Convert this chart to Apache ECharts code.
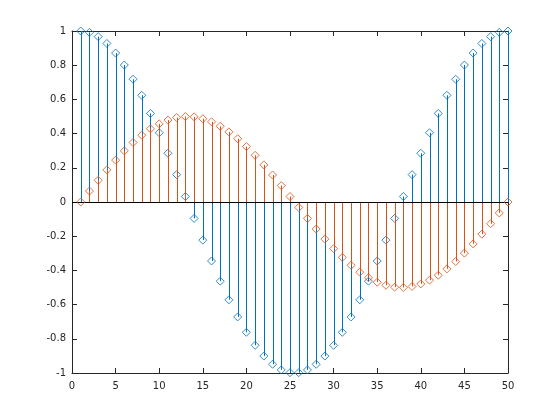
<!DOCTYPE html>
<html>
<head>
<meta charset="utf-8">
<script src="https://cdn.jsdelivr.net/npm/echarts@6/dist/echarts.min.js"></script>
<style>html,body{margin:0;padding:0;background:#fff;}#c{width:560px;height:420px;}</style>
</head>
<body>
<div id="c"></div>
<script>
const xs = [1,2,3,4,5,6,7,8,9,10,11,12,13,14,15,16,17,18,19,20,21,22,23,24,25,26,27,28,29,30,31,32,33,34,35,36,37,38,39,40,41,42,43,44,45,46,47,48,49,50];
const blueVals = [1.000,0.992,0.967,0.927,0.871,0.801,0.718,0.624,0.518,0.405,0.285,0.160,0.032,-0.096,-0.223,-0.345,-0.463,-0.572,-0.672,-0.762,-0.838,-0.901,-0.949,-0.982,-0.998,-0.998,-0.982,-0.949,-0.901,-0.838,-0.762,-0.672,-0.572,-0.463,-0.345,-0.223,-0.096,0.032,0.160,0.285,0.405,0.518,0.624,0.718,0.801,0.871,0.927,0.967,0.992,1.000];
const orangeVals = [0.000,0.064,0.127,0.188,0.245,0.299,0.348,0.391,0.428,0.457,0.479,0.494,0.500,0.498,0.487,0.469,0.443,0.410,0.370,0.324,0.273,0.217,0.158,0.096,0.032,-0.032,-0.096,-0.158,-0.217,-0.273,-0.324,-0.370,-0.410,-0.443,-0.469,-0.487,-0.498,-0.500,-0.494,-0.479,-0.457,-0.428,-0.391,-0.348,-0.299,-0.245,-0.188,-0.127,-0.064,0.000];
const xTicks = [0,5,10,15,20,25,30,35,40,45,50];
const yTicks = [-1,-0.8,-0.6,-0.4,-0.2,0,0.2,0.4,0.6,0.8,1];

const BLUE = '#0072BD', ORANGE = '#D95319', AX = '#262626';
const blueData = xs.map((x,i)=>[x, blueVals[i]]);
const orangeData = xs.map((x,i)=>[x, orangeVals[i]]);

function stemSeries(data, color, z){
  return {
    type:'custom', data:data, z:z, silent:true,
    renderItem:function(params, api){
      const x = api.value(0), y = api.value(1);
      const p0 = api.coord([x,0]), p1 = api.coord([x,y]);
      const px = Math.round(p0[0]) + 0.5;
      return {type:'line', shape:{x1:px,y1:p0[1],x2:px,y2:p1[1]}, style:{stroke:color, lineWidth:1}};
    }
  };
}
function markerSeries(data, color, z){
  return {
    type:'scatter', data:data, z:z, symbol:'diamond', symbolSize:[8,8], silent:true,
    itemStyle:{color:'rgba(0,0,0,0)', borderColor:color, borderWidth:1}
  };
}
const font = {fontFamily:'DejaVu Sans', fontSize:10, color:AX};
const chart = echarts.init(document.getElementById('c'), null, {renderer:'canvas'});
chart.setOption({
  animation:false,
  backgroundColor:'#fff',
  grid:{left:72, right:52, top:31, bottom:47, containLabel:false},
  xAxis:[
    {type:'value', min:xTicks[0], max:xTicks[xTicks.length-1], interval:5, position:'bottom',
     axisLine:{show:true, onZero:false, lineStyle:{color:AX, width:1}},
     axisTick:{show:true, inside:true, length:5, lineStyle:{color:AX}},
     axisLabel:Object.assign({margin:8}, font), splitLine:{show:false}},
    {type:'value', min:xTicks[0], max:xTicks[xTicks.length-1], interval:5, position:'top',
     axisLine:{show:true, onZero:false, lineStyle:{color:AX, width:1}},
     axisTick:{show:true, inside:true, length:5, lineStyle:{color:AX}},
     axisLabel:{show:false}, splitLine:{show:false}}
  ],
  yAxis:[
    {type:'value', min:yTicks[0], max:yTicks[yTicks.length-1], interval:0.2, position:'left',
     axisLine:{show:true, onZero:false, lineStyle:{color:AX, width:1}},
     axisTick:{show:true, inside:true, length:5, lineStyle:{color:AX}},
     axisLabel:Object.assign({margin:6, formatter:function(v){return String(Math.round(v*10)/10);}}, font),
     splitLine:{show:false}},
    {type:'value', min:yTicks[0], max:yTicks[yTicks.length-1], interval:0.2, position:'right',
     axisLine:{show:true, onZero:false, lineStyle:{color:AX, width:1}},
     axisTick:{show:true, inside:true, length:5, lineStyle:{color:AX}},
     axisLabel:{show:false}, splitLine:{show:false}}
  ],
  series:[
    Object.assign(stemSeries(blueData, BLUE, 2), {
      markLine:{silent:true, symbol:['none','none'], label:{show:false},
        lineStyle:{color:'#000', type:'solid', width:1},
        data:[{yAxis:0}]}
    }),
    markerSeries(blueData, BLUE, 3),
    stemSeries(orangeData, ORANGE, 4),
    markerSeries(orangeData, ORANGE, 5)
  ]
});
</script>
</body>
</html>
